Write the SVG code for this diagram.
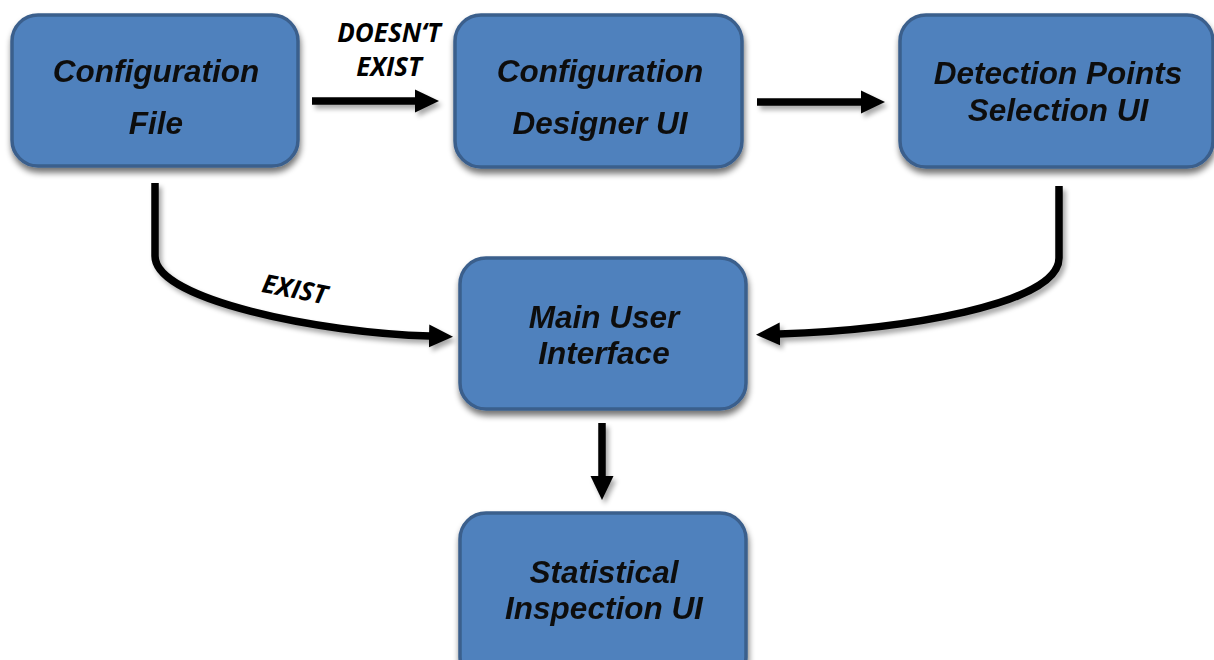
<svg xmlns="http://www.w3.org/2000/svg" width="1214" height="660" viewBox="0 0 1214 660">
<defs>
<filter id="sh" x="-10%" y="-10%" width="125%" height="135%">
<feGaussianBlur in="SourceAlpha" stdDeviation="3"/>
<feOffset dx="1" dy="5" result="b"/>
<feComponentTransfer><feFuncA type="linear" slope="0.55"/></feComponentTransfer>
<feMerge><feMergeNode/><feMergeNode in="SourceGraphic"/></feMerge>
</filter>
<filter id="ash" x="-20%" y="-20%" width="140%" height="150%">
<feGaussianBlur in="SourceAlpha" stdDeviation="2.5"/>
<feOffset dx="3" dy="4" result="b"/>
<feComponentTransfer><feFuncA type="linear" slope="0.35"/></feComponentTransfer>
<feMerge><feMergeNode/><feMergeNode in="SourceGraphic"/></feMerge>
</filter>
<marker id="ah" markerUnits="userSpaceOnUse" markerWidth="26" markerHeight="26" viewBox="0 0 26 26" refX="1" refY="13" orient="auto">
<path d="M0,1.5 L24,13 L0,24.5 Z" fill="#000"/>
</marker>
<style>
.box{fill:#4F81BD;stroke:#3A5F8C;stroke-width:3.5}
.t{font-family:"Liberation Sans",Arial,sans-serif;font-weight:bold;font-style:italic;font-size:31.5px;fill:#111;text-anchor:middle}
.lbl{font-family:"Open Sans","Liberation Sans",sans-serif;font-weight:bold;font-style:italic;font-size:26px;fill:#000;text-anchor:middle}
.c{fill:none;stroke:#000;stroke-width:7.5;marker-end:url(#ah)}
</style>
</defs>
<rect width="1214" height="660" fill="#fff"/>
<g id="connectors" filter="url(#ash)">
<path class="c" d="M312,101 H416"/>
<path class="c" d="M757,102 H862"/>
<path class="c" d="M155,183 V256 C155,300 320,333 430,336"/>
<path class="c" d="M1059,186 V258 C1059,305 900,330 779,334"/>
<path class="c" d="M602,423 V477"/>
</g>
<g id="labels">
<text class="lbl" x="389" y="42">DOESN‘T</text>
<text class="lbl" x="389" y="76">EXIST</text>
<text class="lbl" transform="translate(293,298) rotate(11)" x="0" y="0">EXIST</text>
</g>
<g id="node-config-file" filter="url(#sh)">
<rect class="box" x="12" y="15" width="286" height="151" rx="26"/>
<text class="t" x="156" y="82">Configuration</text>
<text class="t" x="156" y="134">File</text>
</g>
<g id="node-config-designer" filter="url(#sh)">
<rect class="box" x="455" y="15" width="287" height="152" rx="26"/>
<text class="t" x="600" y="82">Configuration</text>
<text class="t" x="600" y="134">Designer UI</text>
</g>
<g id="node-detection-points" filter="url(#sh)">
<rect class="box" x="900" y="15" width="313" height="152" rx="26"/>
<text class="t" x="1058" y="84">Detection Points</text>
<text class="t" x="1058" y="121">Selection UI</text>
</g>
<g id="node-main-ui" filter="url(#sh)">
<rect class="box" x="460" y="258" width="286" height="151" rx="26"/>
<text class="t" x="604" y="328">Main User</text>
<text class="t" x="604" y="364">Interface</text>
</g>
<g id="node-statistical" filter="url(#sh)">
<rect class="box" x="460" y="513" width="286" height="170" rx="26"/>
<text class="t" x="604" y="583">Statistical</text>
<text class="t" x="604" y="619">Inspection UI</text>
</g>
</svg>
